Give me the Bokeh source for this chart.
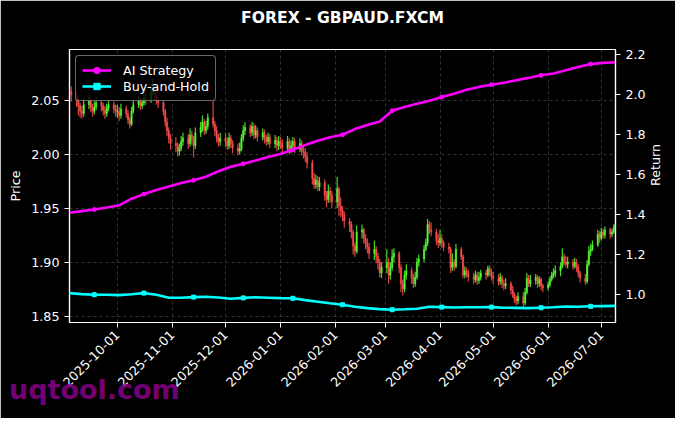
import math
import pandas as pd
from bokeh.plotting import figure
from bokeh.layouts import column
from bokeh.models import (Range1d, LinearAxis, FixedTicker, DatetimeTickFormatter, Div,
                          NumeralTickFormatter, Legend, LegendItem, ColumnDataSource)
from bokeh.embed import file_html
from bokeh.resources import INLINE

TITLE = "FOREX - GBPAUD.FXCM"
WATERMARK = "uqtool.com"
START, END = "2025-09-04", "2026-07-09"
month_ticks = ["2025-10-01", "2025-11-01", "2025-12-01", "2026-01-01", "2026-02-01",
               "2026-03-01", "2026-04-01", "2026-05-01", "2026-06-01", "2026-07-01"]
price_ticks = [1.85, 1.90, 1.95, 2.00, 2.05]
return_ticks = [1.0, 1.2, 1.4, 1.6, 1.8, 2.0, 2.2]

# ---- daily candles (business days) ----
first_open = 2.060
close_sep = [2.058, 2.055, 2.050, 2.045, 2.040, 2.038, 2.046, 2.050, 2.043, 2.040,
             2.044, 2.048, 2.045, 2.041, 2.038, 2.043, 2.046, 2.042, 2.040]
high_sep = [2.066, 2.063, 2.058, 2.054, 2.048, 2.045, 2.052, 2.055, 2.053, 2.047,
            2.049, 2.053, 2.051, 2.048, 2.045, 2.047, 2.050, 2.049, 2.046]
low_sep = [2.052, 2.049, 2.044, 2.036, 2.034, 2.033, 2.035, 2.042, 2.039, 2.035,
           2.037, 2.041, 2.040, 2.036, 2.033, 2.035, 2.040, 2.038, 2.035]

close_oct = [2.040, 2.036, 2.042, 2.038, 2.032, 2.028, 2.040, 2.046, 2.050, 2.045, 2.048, 2.052,
             2.050, 2.058, 2.062, 2.055, 2.050, 2.048, 2.040, 2.030, 2.022, 2.015, 2.010]
high_oct = [2.046, 2.044, 2.047, 2.045, 2.041, 2.035, 2.044, 2.050, 2.054, 2.053, 2.052, 2.056,
            2.058, 2.066, 2.070, 2.064, 2.058, 2.054, 2.050, 2.042, 2.034, 2.025, 2.019]
low_oct = [2.034, 2.031, 2.033, 2.034, 2.028, 2.024, 2.026, 2.038, 2.043, 2.041, 2.042, 2.045,
           2.046, 2.048, 2.055, 2.051, 2.046, 2.043, 2.036, 2.026, 2.017, 2.010, 2.004]

close_nov = [2.008, 2.003, 2.006, 2.012, 2.015, 2.010, 2.018, 2.014, 2.008, 2.020,
             2.025, 2.030, 2.022, 2.026, 2.034, 2.028, 2.022, 2.015, 2.012, 2.015]
high_nov = [2.016, 2.011, 2.010, 2.017, 2.020, 2.019, 2.024, 2.022, 2.017, 2.025,
            2.030, 2.036, 2.033, 2.031, 2.038, 2.050, 2.031, 2.026, 2.019, 2.020]
low_nov = [2.002, 1.998, 1.999, 2.003, 2.008, 2.005, 2.007, 2.009, 1.997, 2.005,
           2.016, 2.021, 2.018, 2.019, 2.023, 2.025, 2.017, 2.011, 2.007, 2.008]

close_dec = [2.012, 2.008, 2.015, 2.010, 2.006, 2.003, 2.005, 2.015, 2.022, 2.025, 2.020, 2.026,
             2.018, 2.022, 2.016, 2.020, 2.014, 2.012, 2.016, 2.010, 2.013, 2.008, 2.012]
high_dec = [2.020, 2.016, 2.020, 2.018, 2.013, 2.010, 2.011, 2.019, 2.027, 2.030, 2.028, 2.030,
            2.029, 2.027, 2.025, 2.024, 2.023, 2.018, 2.020, 2.019, 2.018, 2.016, 2.017]
low_dec = [2.007, 2.004, 2.005, 2.006, 2.001, 1.999, 2.000, 2.003, 2.012, 2.018, 2.016, 2.017,
           2.014, 2.015, 2.012, 2.013, 2.010, 2.008, 2.009, 2.006, 2.006, 2.003, 2.004]

close_jan = [2.010, 2.006, 2.012, 2.004, 2.008, 2.012, 2.005, 2.010, 2.003, 2.002, 1.998,
             1.992, 1.978, 1.972, 1.976, 1.970, 1.974, 1.962, 1.958, 1.966, 1.962, 1.956]
high_jan = [2.016, 2.014, 2.017, 2.015, 2.013, 2.016, 2.015, 2.015, 2.013, 2.008, 2.006,
            2.002, 1.995, 1.983, 1.981, 1.980, 1.979, 1.977, 1.966, 1.972, 1.970, 1.966]
low_jan = [2.005, 2.002, 2.003, 2.000, 2.001, 2.005, 2.001, 2.002, 1.999, 1.996, 1.993,
           1.987, 1.972, 1.968, 1.968, 1.966, 1.966, 1.957, 1.951, 1.955, 1.955, 1.950]

close_feb = [1.968, 1.952, 1.948, 1.944, 1.938, 1.935, 1.928, 1.915, 1.910, 1.928,
             1.930, 1.922, 1.918, 1.914, 1.908, 1.912, 1.905, 1.900, 1.890, 1.895]
high_feb = [1.979, 1.970, 1.960, 1.952, 1.947, 1.941, 1.938, 1.930, 1.918, 1.934,
            1.935, 1.932, 1.926, 1.922, 1.918, 1.920, 1.915, 1.909, 1.903, 1.900]
low_feb = [1.950, 1.943, 1.942, 1.938, 1.932, 1.928, 1.922, 1.907, 1.905, 1.908,
           1.922, 1.917, 1.912, 1.908, 1.903, 1.902, 1.899, 1.893, 1.886, 1.885]

close_mar = [1.900, 1.888, 1.895, 1.905, 1.908, 1.895, 1.880, 1.875, 1.888, 1.892, 1.885,
             1.880, 1.886, 1.900, 1.903, 1.912, 1.918, 1.935, 1.930, 1.928, 1.920, 1.918]
high_mar = [1.912, 1.904, 1.900, 1.912, 1.913, 1.910, 1.898, 1.884, 1.892, 1.898, 1.895,
            1.889, 1.891, 1.904, 1.907, 1.916, 1.922, 1.940, 1.938, 1.937, 1.931, 1.926]
low_mar = [1.890, 1.880, 1.884, 1.892, 1.900, 1.890, 1.872, 1.869, 1.872, 1.884, 1.880,
           1.876, 1.877, 1.884, 1.896, 1.900, 1.910, 1.915, 1.926, 1.924, 1.916, 1.913]

close_apr = [1.922, 1.918, 1.914, 1.912, 1.895, 1.900, 1.896, 1.912, 1.905, 1.888, 1.892,
             1.890, 1.886, 1.884, 1.888, 1.883, 1.886, 1.890, 1.888, 1.894, 1.891, 1.887]
high_apr = [1.930, 1.926, 1.920, 1.918, 1.914, 1.908, 1.903, 1.917, 1.914, 1.907, 1.896,
            1.895, 1.893, 1.890, 1.892, 1.891, 1.891, 1.893, 1.893, 1.897, 1.897, 1.894]
low_apr = [1.915, 1.913, 1.910, 1.908, 1.890, 1.892, 1.892, 1.894, 1.902, 1.885, 1.885,
           1.886, 1.882, 1.880, 1.881, 1.879, 1.880, 1.883, 1.884, 1.886, 1.887, 1.883]

close_may = [1.885, 1.882, 1.886, 1.880, 1.878, 1.880, 1.874, 1.870, 1.866, 1.864, 1.868,
             1.862, 1.872, 1.885, 1.880, 1.883, 1.886, 1.880, 1.884, 1.878, 1.876]
high_may = [1.891, 1.889, 1.890, 1.888, 1.884, 1.885, 1.882, 1.878, 1.872, 1.869, 1.872,
            1.872, 1.876, 1.890, 1.888, 1.888, 1.889, 1.888, 1.887, 1.886, 1.880]
low_may = [1.880, 1.878, 1.879, 1.876, 1.874, 1.875, 1.870, 1.867, 1.862, 1.860, 1.861,
           1.858, 1.860, 1.870, 1.877, 1.877, 1.879, 1.876, 1.877, 1.874, 1.872]

close_jun = [1.879, 1.884, 1.888, 1.890, 1.892, 1.896, 1.905, 1.900, 1.898, 1.900, 1.896,
             1.900, 1.895, 1.890, 1.885, 1.882, 1.898, 1.910, 1.912, 1.916, 1.926, 1.922]
high_jun = [1.882, 1.887, 1.891, 1.894, 1.897, 1.900, 1.913, 1.908, 1.906, 1.905, 1.903,
            1.904, 1.903, 1.898, 1.892, 1.889, 1.902, 1.915, 1.917, 1.920, 1.930, 1.929]
low_jun = [1.874, 1.877, 1.882, 1.885, 1.886, 1.887, 1.894, 1.897, 1.895, 1.894, 1.893,
           1.894, 1.891, 1.886, 1.881, 1.879, 1.880, 1.896, 1.906, 1.910, 1.914, 1.918]

close_jul = [1.928, 1.925, 1.930, 1.926, 1.928, 1.932, 1.935]
high_jul = [1.932, 1.931, 1.933, 1.932, 1.931, 1.935, 1.938]
low_jul = [1.920, 1.922, 1.922, 1.922, 1.923, 1.926, 1.929]

# ---- strategy curves, weekly samples from START ----
ai_strategy = [1.410, 1.418, 1.426, 1.436, 1.447, 1.480, 1.503, 1.523, 1.541, 1.558,
               1.572, 1.590, 1.617, 1.640, 1.655, 1.671, 1.688, 1.704, 1.725, 1.748,
               1.770, 1.787, 1.800, 1.828, 1.848, 1.866, 1.920, 1.938, 1.955, 1.970,
               1.988, 2.005, 2.025, 2.039, 2.050, 2.060, 2.072, 2.084, 2.097, 2.106,
               2.122, 2.138, 2.153, 2.159, 2.162]
buy_hold = [1.008, 1.003, 1.000, 1.000, 0.998, 1.002, 1.008, 1.000, 0.985, 0.985,
            0.988, 0.990, 0.986, 0.980, 0.984, 0.987, 0.985, 0.983, 0.982, 0.973,
            0.965, 0.957, 0.950, 0.940, 0.933, 0.928, 0.925, 0.927, 0.930, 0.940,
            0.938, 0.936, 0.937, 0.937, 0.938, 0.935, 0.934, 0.933, 0.935, 0.937,
            0.941, 0.940, 0.942, 0.943, 0.944]

# ---- assemble ----
closes = (close_sep + close_oct + close_nov + close_dec + close_jan + close_feb +
          close_mar + close_apr + close_may + close_jun + close_jul)
highs = (high_sep + high_oct + high_nov + high_dec + high_jan + high_feb +
         high_mar + high_apr + high_may + high_jun + high_jul)
lows = (low_sep + low_oct + low_nov + low_dec + low_jan + low_feb +
        low_mar + low_apr + low_may + low_jun + low_jul)
opens = [first_open] + closes[:-1]
dates = list(pd.bdate_range(START, END))[:len(closes)]
colors = ["#55ff33" if c >= o else "#ff4d4d" for o, c in zip(opens, closes)]
candles = ColumnDataSource(dict(date=dates, open=opens, close=closes, high=highs,
                                low=lows, color=colors))

wk_dates = list(pd.date_range(START, periods=len(ai_strategy), freq="7D"))
lines = ColumnDataSource(dict(date=wk_dates, ai=ai_strategy, bh=buy_hold))
mk = ColumnDataSource(dict(date=wk_dates[2::4], ai=ai_strategy[2::4], bh=buy_hold[2::4]))

FONT = "DejaVu Sans"
TICK_FS = "12.7px"
p = figure(width=675, height=418, x_axis_type="datetime", output_backend="svg",
           toolbar_location=None, tools="",
           x_range=Range1d(pd.Timestamp(START), pd.Timestamp(END)),
           y_range=Range1d(1.844, 2.0973),
           min_border_left=69, min_border_right=60, min_border_top=49, min_border_bottom=96,
           background_fill_color="black", border_fill_color="black")
p.outline_line_color = "white"
p.outline_line_width = 1.2

x_ax = p.below[0]
y_ax = p.left[0]

# title drawn as the label of a tick-less axis above the frame
t_ax = LinearAxis(axis_label=TITLE, ticker=FixedTicker(ticks=[]), axis_line_color=None,
                  major_tick_line_color=None, minor_tick_line_color=None,
                  major_tick_out=0, major_tick_in=0, minor_tick_out=0, minor_tick_in=0,
                  major_label_standoff=0, axis_label_standoff=23,
                  axis_label_text_font=FONT, axis_label_text_font_size="15.6px",
                  axis_label_text_font_style="bold", axis_label_text_color="white")
p.add_layout(t_ax, "above")

p.extra_y_ranges = {"ret": Range1d(0.861, 2.226)}
ax_r = LinearAxis(y_range_name="ret", axis_label="Return")
p.add_layout(ax_r, "right")

x_ax.ticker = FixedTicker(ticks=[pd.Timestamp(t).value / 1e6 for t in month_ticks])
fmt = "%Y-%m-%d"
x_ax.formatter = DatetimeTickFormatter(days=fmt, months=fmt, years=fmt, hours=fmt,
                                       milliseconds=fmt, seconds=fmt, minutes=fmt,
                                       hourmin=fmt, minsec=fmt)
x_ax.major_label_orientation = 0.785398
y_ax.ticker = FixedTicker(ticks=price_ticks)
y_ax.formatter = NumeralTickFormatter(format="0.00")
y_ax.axis_label = "Price"
ax_r.ticker = FixedTicker(ticks=return_ticks)
ax_r.formatter = NumeralTickFormatter(format="0.0")

for ax in [x_ax, y_ax, ax_r]:
    ax.axis_line_color = "white"
    ax.axis_line_width = 1.2
    ax.major_tick_line_color = "white"
    ax.major_tick_out = 5
    ax.major_tick_in = 0
    ax.minor_tick_line_color = None
    ax.major_label_text_color = "white"
    ax.major_label_text_font = FONT
    ax.major_label_text_font_size = TICK_FS
    ax.major_label_standoff = 5
    ax.axis_label_text_color = "white"
    ax.axis_label_text_font = FONT
    ax.axis_label_text_font_size = TICK_FS
    ax.axis_label_text_font_style = "normal"
y_ax.axis_label_standoff = 5
ax_r.axis_label_standoff = 7
ax_r.axis_label_orientation = math.pi / 2

for g in [p.xgrid[0], p.ygrid[0]]:
    g.grid_line_color = "#777777"
    g.grid_line_alpha = 0.6
    g.grid_line_dash = "3 3"
    g.grid_line_width = 0.7

day_ms = 86400000
p.segment(x0="date", y0="low", x1="date", y1="high", line_color="color",
          line_width=1.2, line_alpha=0.85, source=candles)
p.vbar(x="date", width=0.8 * day_ms, top="open", bottom="close", fill_color="color",
       line_color="color", line_width=0.5, fill_alpha=0.85, line_alpha=0.85, source=candles)

ai_line = p.line("date", "ai", source=lines, line_color="#ff00ff", line_width=2.6,
                 y_range_name="ret")
ai_pts = p.scatter("date", "ai", source=mk, marker="circle", size=4, color="#ff00ff",
                   y_range_name="ret")
bh_line = p.line("date", "bh", source=lines, line_color="#00ffff", line_width=2.6,
                 y_range_name="ret")
bh_pts = p.scatter("date", "bh", source=mk, marker="square", size=4, color="#00ffff",
                   y_range_name="ret")

legend = Legend(items=[LegendItem(label="AI Strategy", renderers=[ai_line, ai_pts]),
                       LegendItem(label="Buy-and-Hold", renderers=[bh_line, bh_pts])],
                location="top_left", margin=6, padding=6, spacing=0,
                glyph_width=29, glyph_height=16, label_height=16, label_standoff=12,
                label_text_font=FONT, label_text_font_size=TICK_FS, label_text_color="white",
                background_fill_color="black", background_fill_alpha=0.8,
                border_line_color="#cccccc", border_line_width=1)
try:
    legend.border_radius = 4
except Exception:
    pass
p.add_layout(legend)

# watermark overlapping the lower-left corner of the figure
wm = Div(text=WATERMARK, width=200, height=27, margin=(-42, 0, 0, 9),
         styles={"position": "relative", "z-index": "10", "color": "#800080",
                 "opacity": "0.9", "font-family": "DejaVu Sans", "font-size": "27px",
                 "font-weight": "bold", "line-height": "1"})

layout = column(p, wm)
open("out.html", "w").write(file_html(layout, INLINE))
